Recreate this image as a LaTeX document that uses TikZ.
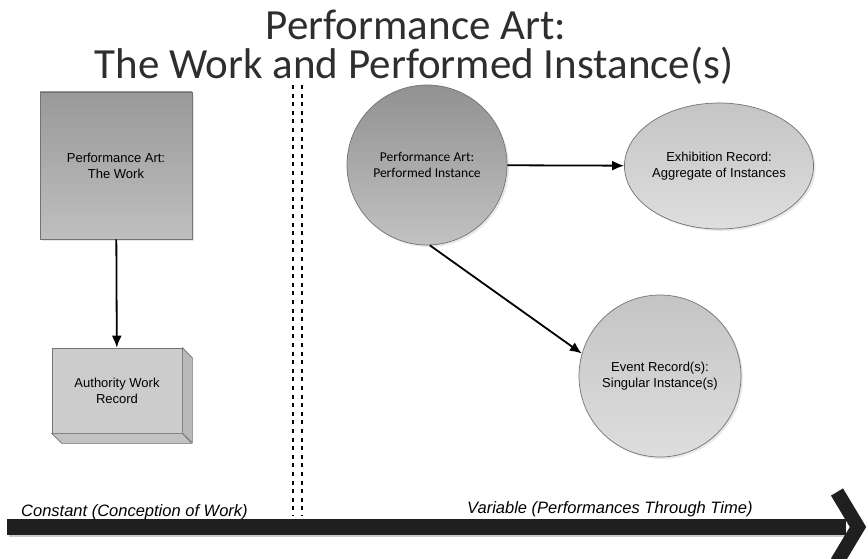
\documentclass[tikz,border=0pt]{standalone}
\usepackage{fontspec}
\setmainfont{Liberation Sans}
\newfontfamily\titlefont{Carlito}
\usetikzlibrary{shapes.geometric,arrows.meta,shadows}

\definecolor{workTop}{gray}{0.60}
\definecolor{workBot}{gray}{0.75}
\definecolor{perfTop}{gray}{0.57}
\definecolor{perfBot}{gray}{0.76}
\definecolor{lightTop}{gray}{0.77}
\definecolor{lightBot}{gray}{0.87}
\definecolor{edge}{gray}{0.45}

\tikzset{
    shape base/.style={draw=edge, line width=0.7pt, align=center, inner sep=0pt,
        font=\fontsize{13}{16}\selectfont,
        drop shadow={opacity=0.18, shadow xshift=2pt, shadow yshift=-2pt}},
    workbox/.style={shape base, rectangle, minimum width=152pt, minimum height=147pt,
        top color=workTop, bottom color=workBot},
    recordbox/.style={shape base, rectangle, minimum width=130pt, minimum height=85pt,
        fill=gray!40!white, drop shadow={opacity=0}},
    face/.style={draw=edge, line width=0.7pt},
    instance/.style={shape base, circle, minimum size=160pt,
        top color=perfTop, bottom color=perfBot, font=\titlefont\fontsize{13.5}{16.5}\selectfont},
    exhibit/.style={shape base, ellipse, minimum width=172pt, minimum height=126pt,
        top color=lightTop, bottom color=lightBot},
    event/.style={shape base, circle, minimum size=162pt,
        top color=lightTop, bottom color=lightBot},
    link/.style={line width=1.8pt, -{Latex[length=12pt,width=10pt]}},
    divider/.style={line width=2.6pt, dash pattern=on 4pt off 4.6pt},
    timeline/.style={line width=16pt},
    tllabel/.style={anchor=base west, inner sep=0pt, font=\itshape\fontsize{16.5}{20}\selectfont},
    titleline/.style={anchor=base, inner sep=0pt, text=black!82,
        font=\titlefont\fontsize{43}{50}\selectfont}
}

\begin{document}
\begin{tikzpicture}[x=1pt,y=-1pt]
\useasboundingbox (0,0) rectangle (868,559);

% title
\node[titleline] (title1) at (416,40) {Performance Art:};
\node[titleline] (title2) at (414,79) {The Work and Performed Instance(s)};

% the work (constant side)
\node[workbox] (work) at (116,165.5) {Performance Art:\\The Work};
\node[recordbox] (record) at (117,390.5) {Authority Work\\Record};
\filldraw[face, fill=gray!55!white] (record.north east) -- ++(10,10) -- ++(0,85) -- (record.south east) -- cycle;
\filldraw[face, fill=gray!48!white] (record.south west) -- ++(10,10) -- ++(130,0) -- (record.south east) -- cycle;
\draw[link] (work) -- (record);

% divider
\foreach \x in {293,302}
    \draw[divider] (\x,85) -- (\x,516);

% performed instances (variable side)
\node[instance] (perf) at (427,165) {Performance Art:\\Performed Instance};
\node[exhibit] (exhib) at (719,166) {Exhibition Record:\\Aggregate of Instances};
\node[event] (event) at (660,376) {Event Record(s):\\Singular Instance(s)};
\draw[link] (perf) -- (exhib);
\draw[link] (perf.-88) -- (event.164);

% time line
\coordinate (tl start) at (7,527);
\coordinate (tl end) at (846,527);
\draw[timeline, gray!40, line width=14pt] (9,530) -- (846,530);
\draw[timeline, black!88] (tl start) -- (tl end);
\draw[black!88, line width=14pt, line join=miter] (tl end) ++(-9,-35) -- ++(21,35) -- ++(-21,35);
\node[tllabel] (constant) at (21,516) {Constant (Conception of Work)};
\node[tllabel] (variable) at (467,513) {Variable (Performances Through Time)};
\end{tikzpicture}
\end{document}
